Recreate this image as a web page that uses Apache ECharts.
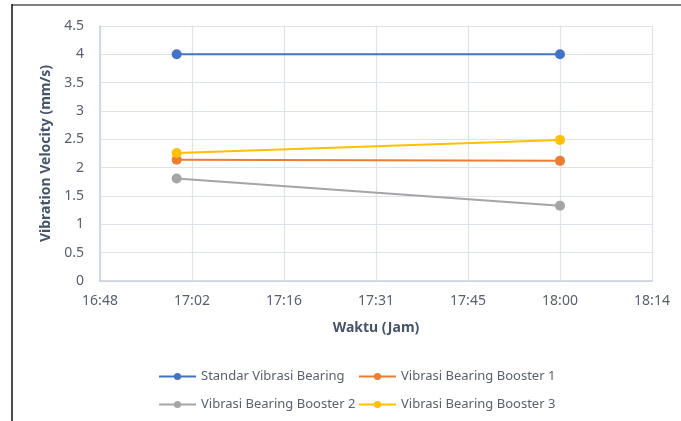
<!DOCTYPE html>
<html><head><meta charset="utf-8">
<script src="https://cdn.jsdelivr.net/npm/echarts@6/dist/echarts.min.js"></script>
<style>html,body{margin:0;padding:0;background:#fff}#c{width:681px;height:421px}</style>
</head><body><div id="c"></div>
<script>
// measurement times
const timesHHMM = ['17:00', '18:00'];
const standar = [4, 4];
const booster1 = [2.14, 2.12];
const booster2 = [1.81, 1.33];
const booster3 = [2.26, 2.49];
const seriesNames = ['Standar Vibrasi Bearing', 'Vibrasi Bearing Booster 1', 'Vibrasi Bearing Booster 2', 'Vibrasi Bearing Booster 3'];
const colors = ['#4472C4', '#ED7D31', '#A5A5A5', '#FFC000'];

function toDay(s){const [h,m]=s.split(':').map(Number);return (h*60+m)/1440;}
function fmt(v){let mins=Math.floor(Math.round(v*1440*1000)/1000+1e-6);const h=Math.floor(mins/60),m=mins%60;return h+':'+(m<10?'0':'')+m;}
const xs = timesHHMM.map(toDay);
const allData=[standar,booster1,booster2,booster3];
const FONT='Noto Sans';
const chart=echarts.init(document.getElementById('c'),null,{renderer:'canvas'});
const legendPos=[[158,370],[358,370],[158,398],[358,398]];
chart.setOption({
  animation:false,
  textStyle:{fontFamily:FONT},
  grid:{left:100,right:29,top:26,bottom:140,containLabel:false},
  xAxis:{type:'value',min:0.70,max:0.76,interval:0.01,
    name:'Waktu (Jam)',nameLocation:'middle',nameGap:40,
    nameTextStyle:{color:'#44546A',fontSize:14,fontWeight:'bold',fontFamily:FONT},
    axisLine:{show:true,lineStyle:{color:'#C9D0DF',width:1.5}},axisTick:{show:false},
    axisLabel:{color:'#595F6E',fontSize:14,margin:13,formatter:fmt,fontFamily:FONT},
    splitLine:{show:true,lineStyle:{color:'#DDE2EC',width:1.2}}},
  yAxis:{type:'value',min:0,max:4.5,interval:0.5,
    name:'Vibration Velocity (mm/s)',nameLocation:'middle',nameGap:47,
    nameTextStyle:{color:'#44546A',fontSize:14,fontWeight:'bold',fontFamily:FONT},
    axisLine:{show:true,lineStyle:{color:'#C9D0DF',width:1.5}},axisTick:{show:false},
    axisLabel:{color:'#595F6E',fontSize:14,margin:16,fontFamily:FONT},
    splitLine:{show:true,lineStyle:{color:'#DDE2EC',width:1.2}}},
  legend:seriesNames.map((n,i)=>({data:[n],left:legendPos[i][0],top:legendPos[i][1],padding:0,
    itemWidth:37,itemHeight:9,itemGap:4,textStyle:{color:'#595F6E',fontSize:13,fontFamily:FONT}})),
  series:allData.map((d,i)=>({name:seriesNames[i],type:'line',data:d.map((v,j)=>[xs[j],v]),
    symbol:'circle',symbolSize:10,color:colors[i],lineStyle:{width:2,color:colors[i]},itemStyle:{color:colors[i]}})),
  graphic:[
    {type:'line',shape:{x1:12,y1:5,x2:681,y2:5},style:{stroke:'#808080',lineWidth:2}},
    {type:'line',shape:{x1:12,y1:4,x2:12,y2:421},style:{stroke:'#111',lineWidth:1.5}}
  ]
});
</script></body></html>
